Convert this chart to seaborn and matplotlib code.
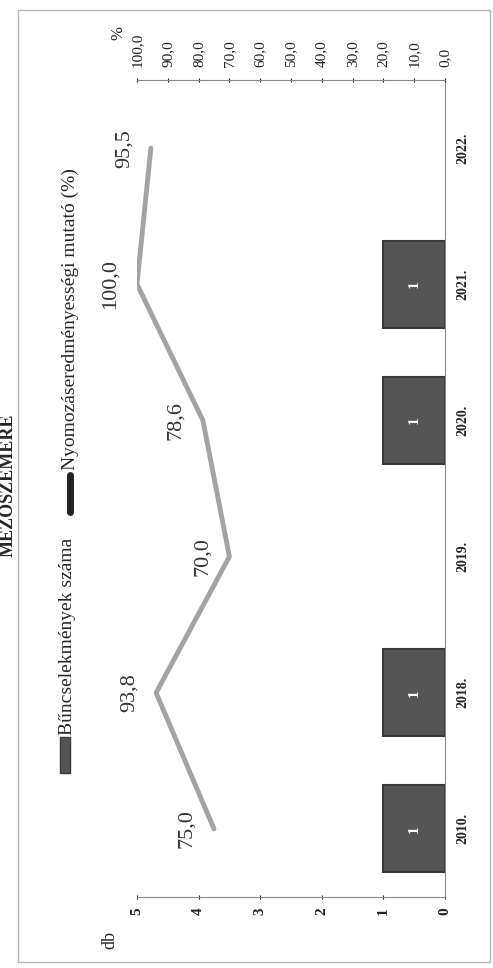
import numpy as np
import matplotlib
matplotlib.use("Agg")
import matplotlib.pyplot as plt
import seaborn as sns
from matplotlib.patches import Rectangle
from matplotlib.lines import Line2D

# data
years = ["2010.", "2018.", "2019.", "2020.", "2021.", "2022."]
crime_counts = [1, 1, 0, 1, 1, 0]
clearance_pct = [75.0, 93.8, 70.0, 78.6, 100.0, 95.5]
db_ticks = [0, 1, 2, 3, 4, 5]
pct_ticks = [0, 10, 20, 30, 40, 50, 60, 70, 80, 90, 100]

title = "MEZŐSZEMÉRE"
bar_name = "Bűncselekmények száma"
line_name = "Nyomozáseredményességi mutató (%)"

sns.set_style("white")
plt.rcParams["font.family"] = ["Liberation Serif", "DejaVu Serif"]

W, H = 493, 968
fig = plt.figure(figsize=(W / 100, H / 100), dpi=100)

def fx(px):
    return px / W

def fy(py):
    return 1 - py / H

# chart is drawn turned a quarter turn (page was scanned sideways)
ax = fig.add_axes([fx(137), fy(897), fx(445) - fx(137), fy(80) - fy(897)])

sns.barplot(x=crime_counts, y=years, orient="h", ax=ax, color="#555555",
            width=0.64, edgecolor="#3a3a3a", linewidth=1.5, saturation=1)
# no outline for the empty years
for patch, v in zip(ax.patches, crime_counts):
    if v == 0:
        patch.set_visible(False)

ax.set_xlim(5, 0)
ax.set_ylim(-0.5, len(years) - 0.5)
ax.set_xticks(db_ticks)
ax.set_xticklabels([str(t) for t in db_ticks], rotation=90, fontsize=11,
                   fontweight="bold")
ax.yaxis.tick_right()
ax.set_yticks(range(len(years)))
ax.set_yticklabels(years, rotation=90, fontsize=10, fontweight="bold", va="center")
ax.tick_params(axis="y", length=0, pad=8)
ax.tick_params(axis="x", length=3, pad=6, colors="#222222", direction="inout")
ax.set_xlabel("")
ax.set_ylabel("")
for side in ["left", "top"]:
    ax.spines[side].set_visible(False)
for side in ["right", "bottom"]:
    ax.spines[side].set_color("#888888")

# count labels inside the bars
for cont in ax.containers:
    labels = [str(v) if v > 0 else "" for v in crime_counts]
    ax.bar_label(cont, labels=labels, label_type="center", rotation=90,
                 color="white", fontsize=11, fontweight="bold")

# clearance rate on the secondary axis
ax2 = ax.twiny()
sns.lineplot(x=clearance_pct, y=list(range(len(years))), orient="y", sort=False,
             ax=ax2, color="#a3a3a3", linewidth=3.5)
ax2.set_xlim(100, 0)
ax2.set_ylim(-0.5, len(years) - 0.5)
ax2.set_xticks(pct_ticks)
ax2.set_xticklabels([f"{t:.1f}".replace(".", ",") for t in pct_ticks],
                    rotation=90, fontsize=11)
ax2.tick_params(axis="x", length=3, pad=8, colors="#222222", direction="inout")
ax2.set_ylabel("")
for side in ["left", "right", "bottom"]:
    ax2.spines[side].set_visible(False)
ax2.spines["top"].set_color("#888888")

for i, v in enumerate(clearance_pct):
    ax2.annotate(f"{v:.1f}".replace(".", ","), (v, i), xytext=(-27, 0),
                 textcoords="offset pixels", rotation=90, ha="center",
                 va="center", fontsize=16, color="#333333")

# axis titles
fig.text(fx(110), fy(940), "db", rotation=90, ha="center", va="center", fontsize=13)
fig.text(fx(118), fy(33), "%", rotation=90, ha="center", va="center", fontsize=12)

# title (cut at the page edge in the scan)
fig.text(fx(8), fy(485), title, rotation=90, ha="center", va="center",
         fontsize=13, fontweight="bold")

# legend, drawn by hand because it is turned as well
fig.patches.append(Rectangle((fx(60), fy(773)), fx(10), fy(737) - fy(773),
                             transform=fig.transFigure, facecolor="#555555",
                             edgecolor="#3a3a3a", linewidth=1))
fig.text(fx(68), fy(735), bar_name, rotation=90, ha="center", va="bottom", fontsize=14)
fig.lines.append(Line2D([fx(70), fx(70)], [fy(512), fy(475)], transform=fig.transFigure,
                        color="#222222", linewidth=5, solid_capstyle="round"))
fig.text(fx(70), fy(470), line_name, rotation=90, ha="center", va="bottom", fontsize=14)

# outer frame of the scanned chart
fig.patches.append(Rectangle((fx(18), fy(962)), fx(490) - fx(18), fy(10) - fy(962),
                             transform=fig.transFigure, fill=False,
                             edgecolor="#b5b5b5", linewidth=1))

fig.savefig("out.png", dpi=100)
